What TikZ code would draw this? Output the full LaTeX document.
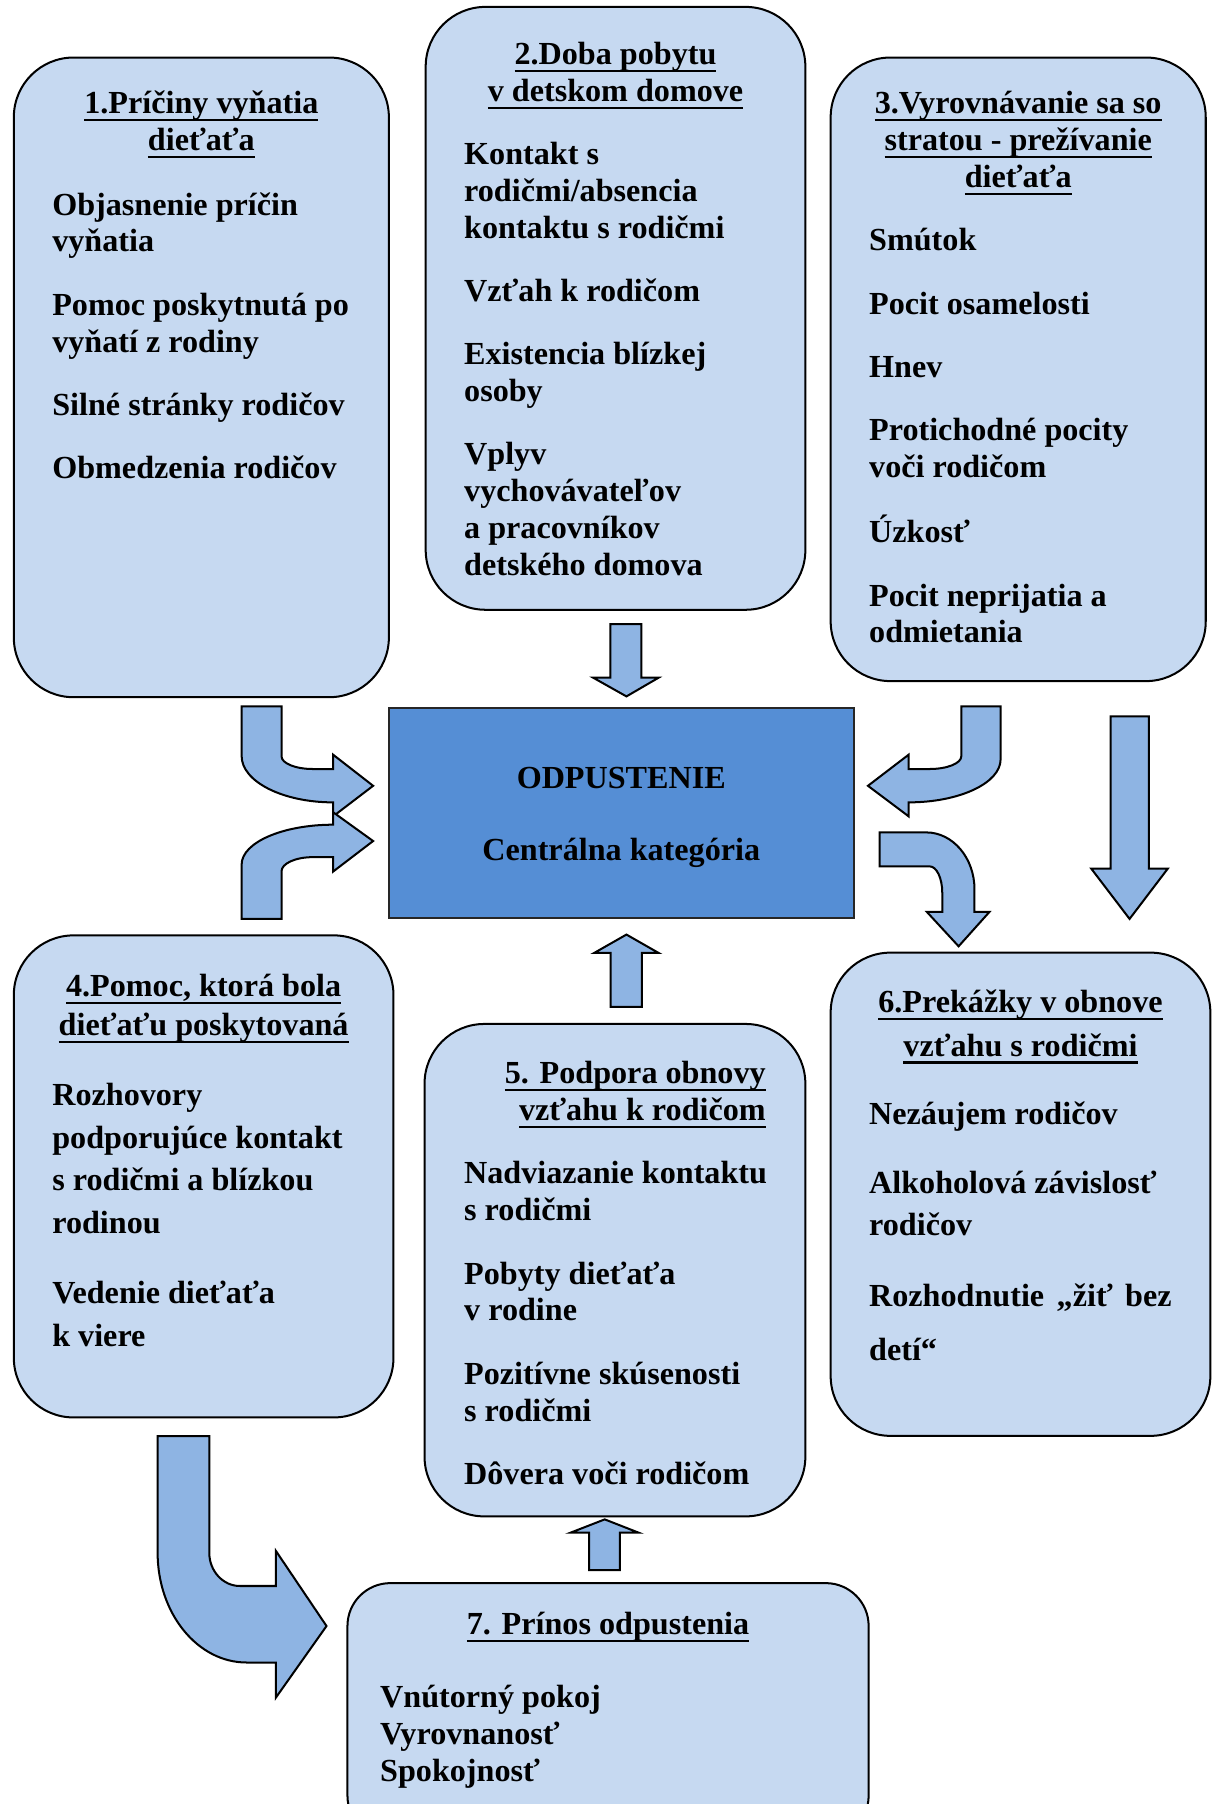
\documentclass[tikz,border=0pt]{standalone}
\usepackage{fontspec}
\setmainfont{Liberation Serif}
\definecolor{boxblue}{RGB}{198,217,241}
\definecolor{arrowblue}{RGB}{142,180,227}
\definecolor{coreblue}{RGB}{85,142,213}
\newcommand{\pxu}{0.4294pt}
\newcommand{\itemgap}{9.9pt}
\newsavebox{\undlbox}
\newcommand{\undl}[1]{\sbox{\undlbox}{#1}\rlap{\vrule height -2pt depth 2.8pt width \wd\undlbox}\usebox{\undlbox}}
% line stacks whose baseline is the first line
\newcommand{\stackl}[1]{\begin{tabular}[t]{@{}l@{}}#1\end{tabular}}
\newcommand{\stackc}[1]{\begin{tabular}[t]{@{}c@{}}#1\end{tabular}}
\newcommand{\stackr}[1]{\begin{tabular}[t]{@{}r@{}}#1\end{tabular}}
\tikzset{%
  catbox/.style     = {rectangle, rounded corners=22.3pt, draw=black,%
                       line width=0.75pt, fill=boxblue},%
  corebox/.style    = {rectangle, draw=black!85, line width=0.75pt, fill=coreblue},%
  boxsize/.style 2 args = {minimum width=#1*\pxu, minimum height=#2*\pxu},%
  blockarrow/.style = {draw=black, line width=0.75pt, fill=arrowblue, line join=miter},%
  head/.style       = {anchor=base},%
  items/.style      = {anchor=base west}%
}

\begin{document}
\begin{tikzpicture}[x=\pxu, y=-\pxu,
	every node/.style = {font=\bfseries\fontsize{12}{13.74}\selectfont, inner sep=0pt}]
	\clip (0,0) rectangle (1053,1568);
	% boxes
	\node[catbox, boxsize={326}{556}] (c1) at (175,328) {};
	\node[catbox, boxsize={330}{524}] (c2) at (535,268) {};
	\node[catbox, boxsize={326}{542}] (c3) at (885,321) {};
	\node[corebox, boxsize={404}{183}] (core) at (540,706.5) {};
	\node[catbox, boxsize={330}{419}] (c4) at (177,1022.5) {};
	\node[catbox, boxsize={331}{428}] (c5) at (534.5,1104) {};
	\node[catbox, boxsize={330}{420}] (c6) at (887,1038) {};
	\node[catbox, rounded corners=16pt, boxsize={453}{222}] (c7) at (528.5,1487) {};
	% block arrows
	\draw[blockarrow] (530.5,542.4) -- (557.5,542.4) -- (557.5,589) -- (572.5,589)
		-- (544.5,605.3) -- (515.5,589) -- (530.5,589) -- cycle;
	\draw[blockarrow] (530.8,875.2) -- (558,875.2) -- (558,828.3) -- (572.5,828.3)
		-- (544.5,812.3) -- (516.4,828.3) -- (530.8,828.3) -- cycle;
	\draw[blockarrow] (512,1364.6) -- (538.7,1364.6) -- (538.7,1332.2) -- (555.2,1332.2)
		-- (525.6,1320.6) -- (495.8,1332.2) -- (512,1332.2) -- cycle;
	\draw[blockarrow] (210,614) -- (244.7,614) -- (244.7,657.4)
		.. controls (244.7,663.5) and (256.9,668.4) .. (272,668.4) -- (289.6,668.4)
		-- (289.6,656) -- (324.3,683) -- (289.6,709.5) -- (289.6,697.4)
		.. controls (245.7,697.4) and (210,679.3) .. (210,657) -- cycle;
	\draw[blockarrow] (210,798.7) -- (244.7,798.7) -- (244.7,757.3)
		.. controls (244.7,750.5) and (256.9,745) .. (272,745) -- (289.6,745)
		-- (289.6,757.5) -- (324.3,731) -- (289.6,706) -- (289.6,716.8)
		.. controls (245.7,716.8) and (210,732.3) .. (210,751.5) -- cycle;
	\draw[blockarrow] (869.7,614) -- (835.5,614) -- (835.5,657.4)
		.. controls (835.5,663.5) and (823.2,668.4) .. (808,668.4) -- (789.7,668.4)
		-- (789.7,656) -- (754.4,683) -- (789.7,709.5) -- (789.7,697.4)
		.. controls (833.9,697.4) and (869.7,680.6) .. (869.7,660) -- cycle;
	\draw[blockarrow] (764.5,723.5) -- (805,723.5)
		.. controls (828.2,723.5) and (847,745.7) .. (847,773) -- (847,792.6)
		-- (860,792.6) -- (833.2,822.5) -- (805.6,792.6) -- (819,792.6) -- (819,776)
		.. controls (819,763.3) and (814.1,753) .. (808,753) -- (764.5,753) -- cycle;
	\draw[blockarrow] (965.3,622.7) -- (998.5,622.7) -- (998.5,755) -- (1015,755)
		-- (981.8,798.7) -- (948.5,755) -- (965.3,755) -- cycle;
	\draw[blockarrow] (137,1248.2) -- (181.9,1248.2) -- (181.9,1349.6)
		.. controls (181.9,1365.5) and (193.8,1378.5) .. (208.5,1378.5) -- (239.8,1378.5)
		-- (239.8,1348) -- (283.8,1413.3) -- (239.8,1475.5) -- (239.8,1445)
		-- (214.3,1445) .. controls (171.6,1445) and (137,1402.3) .. (137,1349.6) -- cycle;
	% texts
	\node[head] (h1) at (175,99) {\stackc{\undl{1.Príčiny vyňatia}\\\undl{dieťaťa}}};
	\node[items] (l1) at (45,187) {\stackl{Objasnenie príčin\\vyňatia\\[\itemgap]Pomoc poskytnutá po\\vyňatí z rodiny\\[\itemgap]Silné stránky rodičov\\[\itemgap]Obmedzenia rodičov}};
	\node[head] (h2) at (535,56) {\stackc{\undl{2.Doba pobytu}\\\undl{v detskom domove}}};
	\node[items] (l2) at (403,143) {\stackl{Kontakt s\\rodičmi/absencia\\kontaktu s rodičmi\\[\itemgap]Vzťah k rodičom\\[\itemgap]Existencia blízkej\\osoby\\[\itemgap]Vplyv\\vychovávateľov\\a pracovníkov\\detského domova}};
	\node[head] (h3) at (885,99) {\stackc{\undl{3.Vyrovnávanie sa so}\\\undl{stratou - prežívanie}\\\undl{dieťaťa}}};
	\node[items] (l3) at (755,218) {\stackl{Smútok\\[\itemgap]Pocit osamelosti\\[\itemgap]Hnev\\[\itemgap]Protichodné pocity\\voči rodičom\\[\itemgap]Úzkosť\\[\itemgap]Pocit neprijatia a\\odmietania}};
	\node[head] (coretext) at (540,685) {\stackc{ODPUSTENIE\\[13.3pt]Centrálna kategória}};
	\node[head, font=\bfseries\fontsize{12}{14.6}\selectfont] (h4) at (177,866) {\stackc{\undl{4.Pomoc, ktorá bola}\\\undl{dieťaťu poskytovaná}}};
	\node[items, font=\bfseries\fontsize{12}{15.9}\selectfont] (l4) at (45,961) {\stackl{Rozhovory\\podporujúce kontakt\\s rodičmi a blízkou\\rodinou\\[10.3pt]Vedenie dieťaťa\\k viere}};
	\node[head, anchor=base east] (h5) at (666,942) {\stackr{\undl{5. Podpora obnovy}\\\undl{vzťahu k rodičom}}};
	\node[items] (l5) at (403,1029) {\stackl{Nadviazanie kontaktu\\s rodičmi\\[\itemgap]Pobyty dieťaťa\\v rodine\\[\itemgap]Pozitívne skúsenosti\\s rodičmi\\[\itemgap]Dôvera voči rodičom}};
	\node[head, font=\bfseries\fontsize{12}{16.3}\selectfont] (h6) at (887,880) {\stackc{\undl{6.Prekážky v obnove}\\\undl{vzťahu s rodičmi}}};
	\node[items, font=\bfseries\fontsize{12}{15.5}\selectfont] (l6) at (755,977) {\stackl{Nezáujem rodičov\\[10.6pt]Alkoholová závislosť\\rodičov\\[10.9pt]\makebox[112.9pt][s]{Rozhodnutie „žiť bez}\\[4.8pt]detí“}};
	\node[head] (h7) at (528.5,1421) {\undl{7. Prínos odpustenia}};
	\node[items] (l7) at (330,1484) {\stackl{Vnútorný pokoj\\Vyrovnanosť\\Spokojnosť}};
\end{tikzpicture}
\end{document}
